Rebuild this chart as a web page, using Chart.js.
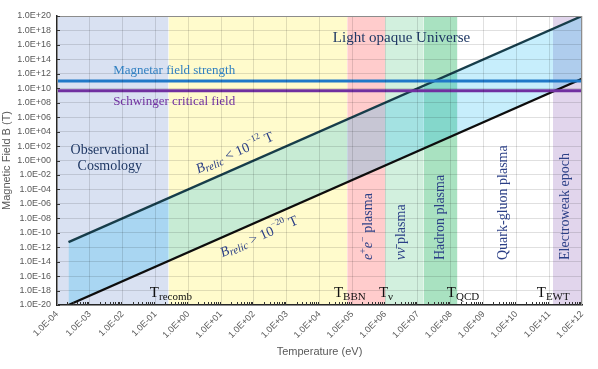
<!DOCTYPE html>
<html>
<head>
<meta charset="utf-8">
<script src="https://cdn.jsdelivr.net/npm/chart.js@4.4.0/dist/chart.umd.min.js"></script>
<style>
  html, body { margin: 0; padding: 0; background: #fff; }
  #wrap { width: 598px; height: 369px; }
</style>
</head>
<body>
<div id="wrap"><canvas id="chart" width="598" height="369"></canvas></div>
<script>
// Axis decades (powers of ten that get a label)
const xTickExps = [-4, -3, -2, -1, 0, 1, 2, 3, 4, 5, 6, 7, 8, 9, 10, 11, 12];
const yTickExps = [-20, -18, -16, -14, -12, -10, -8, -6, -4, -2, 0, 2, 4, 6, 8, 10, 12, 14, 16, 18, 20];

// Cosmic epochs: edges in eV
const bandEdges = [1e-4, 0.25, 7e4, 1e6, 1.5e7, 1.6e8, 1.3e11, 1e12];
const bandNames = ['Observational cosmology', 'Recombination to BBN', 'e+e- plasma', 'nu plasma',
                   'Hadron plasma', 'Quark-gluon plasma', 'Electroweak epoch'];
const bandColors = ['#d9e1f2', '#fffbcc', '#ffcccc', '#d2f0de', '#a9e2c1', '#ffffff', '#e1d5ec'];

// Relic field bounds (T) vs temperature (eV)
const relicT = [2.24e-4, 1e12];
const relicUpper = [5e-12, 1e20];
const relicLower = [1e-20, 2e11];

// Reference field strengths (T)
const fieldT = [1e-4, 1e12];
const magnetarB = 1e11;
const schwingerB = 4.4e9;

const SERIF = "'Liberation Serif', 'Times New Roman', serif";
const SANS = "'Liberation Sans', Arial, sans-serif";
const NAVY = '#1f3864';
const INK = '#2b3f86';

function fmtExp(v) {
    const e = Math.round(Math.log10(v));
    return '1.0E' + (e < 0 ? '-' : '+') + String(Math.abs(e)).padStart(2, '0');
}

// Text annotations, positioned in data space (log10 T, log10 B)
const notes = [
    { lt: 6.5, lb: 16.95, align: 'center', color: NAVY, runs: [{ t: 'Light opaque Universe', s: 15 }] },
    { lt: -0.43, lb: 12.5, align: 'center', color: '#2f7fc1', runs: [{ t: 'Magnetar field strength', s: 13 }] },
    { lt: -0.43, lb: 8.15, align: 'center', color: '#7030a0', runs: [{ t: 'Schwinger critical field', s: 13 }] },
    { lt: -2.39, lb: 1.45, align: 'center', color: NAVY, runs: [{ t: 'Observational', s: 14 }] },
    { lt: -2.39, lb: -0.75, align: 'center', color: NAVY, runs: [{ t: 'Cosmology', s: 14 }] },
    { lt: 1.42, lb: 1.0, align: 'center', color: INK, rot: 'line', runs: [
        { t: 'B', s: 14, i: true }, { t: 'relic', s: 11, i: true, dy: 3 },
        { t: ' < 10', s: 14 }, { t: '\u221212', s: 9, dy: -6 }, { t: ' T', s: 14 }] },
    { lt: 2.16, lb: -10.6, align: 'center', color: INK, rot: 'line', runs: [
        { t: 'B', s: 14, i: true }, { t: 'relic', s: 11, i: true, dy: 3 },
        { t: ' > 10', s: 14 }, { t: '\u221220', s: 9, dy: -6 }, { t: ' T', s: 14 }] },
    { lt: 5.48, lb: -13.77, align: 'left', color: INK, rot: -90, runs: [
        { t: 'e', s: 14, i: true }, { t: '+', s: 10, dy: -5 }, { t: 'e', s: 14, i: true },
        { t: '\u2212', s: 10, dy: -5 }, { t: ' plasma', s: 14 }] },
    { lt: 6.5, lb: -13.77, align: 'left', color: INK, rot: -90, runs: [
        { t: '\u03bd\u03bd\u0304', s: 14, i: true }, { t: ' plasma', s: 14 }] },
    { lt: 7.67, lb: -13.77, align: 'left', color: INK, rot: -90, runs: [{ t: 'Hadron plasma', s: 14 }] },
    { lt: 9.59, lb: -13.77, align: 'left', color: INK, rot: -90, runs: [{ t: 'Quark-gluon plasma', s: 14 }] },
    { lt: 11.48, lb: -13.77, align: 'left', color: INK, rot: -90, runs: [{ t: 'Electroweak epoch', s: 14 }] },
    { lt: -1.17, lb: -18.35, align: 'left', color: '#111', runs: [{ t: 'T', s: 15 }, { t: 'recomb', s: 11, dy: 4 }] },
    { lt: 4.44, lb: -18.35, align: 'left', color: '#111', runs: [{ t: 'T', s: 15 }, { t: 'BBN', s: 11, dy: 4 }] },
    { lt: 5.81, lb: -18.35, align: 'left', color: '#111', runs: [{ t: 'T', s: 15 }, { t: '\u03bd', s: 11, dy: 4 }] },
    { lt: 7.88, lb: -18.35, align: 'left', color: '#111', runs: [{ t: 'T', s: 15 }, { t: 'QCD', s: 11, dy: 4 }] },
    { lt: 10.62, lb: -18.35, align: 'left', color: '#111', runs: [{ t: 'T', s: 15 }, { t: 'EWT', s: 11, dy: 4 }] }
];

function runFont(r) {
    return (r.i ? 'italic ' : '') + r.s + 'px ' + SERIF;
}

function drawRuns(ctx, runs, align) {
    let total = 0;
    runs.forEach(r => { ctx.font = runFont(r); total += ctx.measureText(r.t).width; });
    let cx = align === 'center' ? -total / 2 : 0;
    runs.forEach(r => {
        ctx.font = runFont(r);
        ctx.fillText(r.t, cx, r.dy || 0);
        cx += ctx.measureText(r.t).width;
    });
}

const annotate = {
    id: 'annotate',
    afterDraw(chart) {
        const { ctx, chartArea: a, scales: { x, y } } = chart;
        ctx.save();

        // frame around plot area
        ctx.strokeStyle = '#8c8c8c';
        ctx.lineWidth = 1;
        ctx.strokeRect(a.left + 0.5, a.top + 0.5, a.right - a.left - 1, a.bottom - a.top);

        // minor tick marks on the temperature axis
        ctx.strokeStyle = '#333';
        ctx.beginPath();
        for (let e = xTickExps[0]; e < xTickExps[xTickExps.length - 1]; e++) {
            for (let m = 2; m <= 9; m++) {
                const px = Math.round(x.getPixelForValue(m * Math.pow(10, e))) + 0.5;
                ctx.moveTo(px, a.bottom);
                ctx.lineTo(px, a.bottom - 3);
            }
        }
        yTickExps.forEach(e => {
            const py = Math.round(y.getPixelForValue(Math.pow(10, e))) + 0.5;
            ctx.moveTo(a.left, py);
            ctx.lineTo(a.left + 3, py);
        });
        ctx.stroke();

        // slope of the relic bounds in pixel space
        const ang = Math.atan2(
            y.getPixelForValue(relicUpper[1]) - y.getPixelForValue(relicUpper[0]),
            x.getPixelForValue(relicT[1]) - x.getPixelForValue(relicT[0]));

        ctx.textBaseline = 'middle';
        ctx.textAlign = 'left';
        notes.forEach(n => {
            ctx.save();
            ctx.fillStyle = n.color;
            ctx.translate(x.getPixelForValue(Math.pow(10, n.lt)), y.getPixelForValue(Math.pow(10, n.lb)));
            if (n.rot === 'line') ctx.rotate(ang);
            else if (n.rot) ctx.rotate(n.rot * Math.PI / 180);
            drawRuns(ctx, n.runs, n.align);
            ctx.restore();
        });
        ctx.restore();
    }
};

// Build the datasets
const datasets = [
    {
        label: 'Magnetar field strength',
        data: fieldT.map(t => ({ x: t, y: magnetarB })),
        borderColor: '#1f78c8', borderWidth: 3, pointRadius: 0, fill: false
    },
    {
        label: 'Schwinger critical field',
        data: fieldT.map(t => ({ x: t, y: schwingerB })),
        borderColor: '#7030a0', borderWidth: 3, pointRadius: 0, fill: false
    },
    {
        label: 'B relic > 1e-20 T',
        data: relicT.map((t, i) => ({ x: t, y: relicLower[i] })),
        borderColor: '#0d0d0d', borderWidth: 2.3, pointRadius: 0, fill: false
    },
    {
        label: 'B relic < 1e-12 T',
        data: relicT.map((t, i) => ({ x: t, y: relicUpper[i] })),
        borderColor: '#173d4a', borderWidth: 2.3, pointRadius: 0,
        fill: '-1', backgroundColor: 'rgba(0, 176, 240, 0.22)'
    }
];
bandNames.forEach((name, i) => {
    datasets.push({
        label: name,
        data: [{ x: bandEdges[i], y: 1e20 }, { x: bandEdges[i + 1], y: 1e20 }],
        borderWidth: 0, pointRadius: 0,
        fill: 'start', backgroundColor: bandColors[i]
    });
});

const ctx = document.getElementById('chart').getContext('2d');
const chart = new Chart(ctx, {
    type: 'line',
    data: { datasets: datasets },
    options: {
        responsive: false,
        animation: false,
        layout: { padding: { top: 16, right: 16, left: 0, bottom: 0 } },
        plugins: { legend: { display: false }, tooltip: { enabled: false } },
        scales: {
            x: {
                type: 'logarithmic',
                min: 1e-4, max: 1e12,
                afterBuildTicks: s => { s.ticks = xTickExps.map(e => ({ value: Math.pow(10, e) })); },
                afterFit: s => { s.height = 64; },
                grid: { color: 'rgba(0,0,0,0.12)', drawTicks: false, z: 1 },
                border: { color: '#262626', width: 1.5, z: 2 },
                ticks: {
                    autoSkip: false, maxRotation: 45, minRotation: 45, padding: 4,
                    color: '#595959', font: { family: SANS, size: 9 },
                    callback: v => fmtExp(v)
                },
                title: {
                    display: true, text: 'Temperature (eV)', color: '#595959',
                    font: { family: SANS, size: 11 }, padding: { top: 0, bottom: 10 }
                }
            },
            y: {
                type: 'logarithmic',
                min: 1e-20, max: 1e20,
                afterBuildTicks: s => { s.ticks = yTickExps.map(e => ({ value: Math.pow(10, e) })); },
                afterFit: s => { s.width = 57; },
                grid: { color: 'rgba(0,0,0,0.12)', drawTicks: false, z: 1 },
                border: { color: '#262626', width: 1.5, z: 2 },
                ticks: {
                    autoSkip: false, padding: 6,
                    color: '#595959', font: { family: SANS, size: 9 },
                    callback: v => fmtExp(v)
                },
                title: {
                    display: true, text: 'Magnetic Field B (T)', color: '#595959',
                    font: { family: SANS, size: 11 }, padding: 0
                }
            }
        }
    },
    plugins: [annotate]
});
</script>
</body>
</html>
